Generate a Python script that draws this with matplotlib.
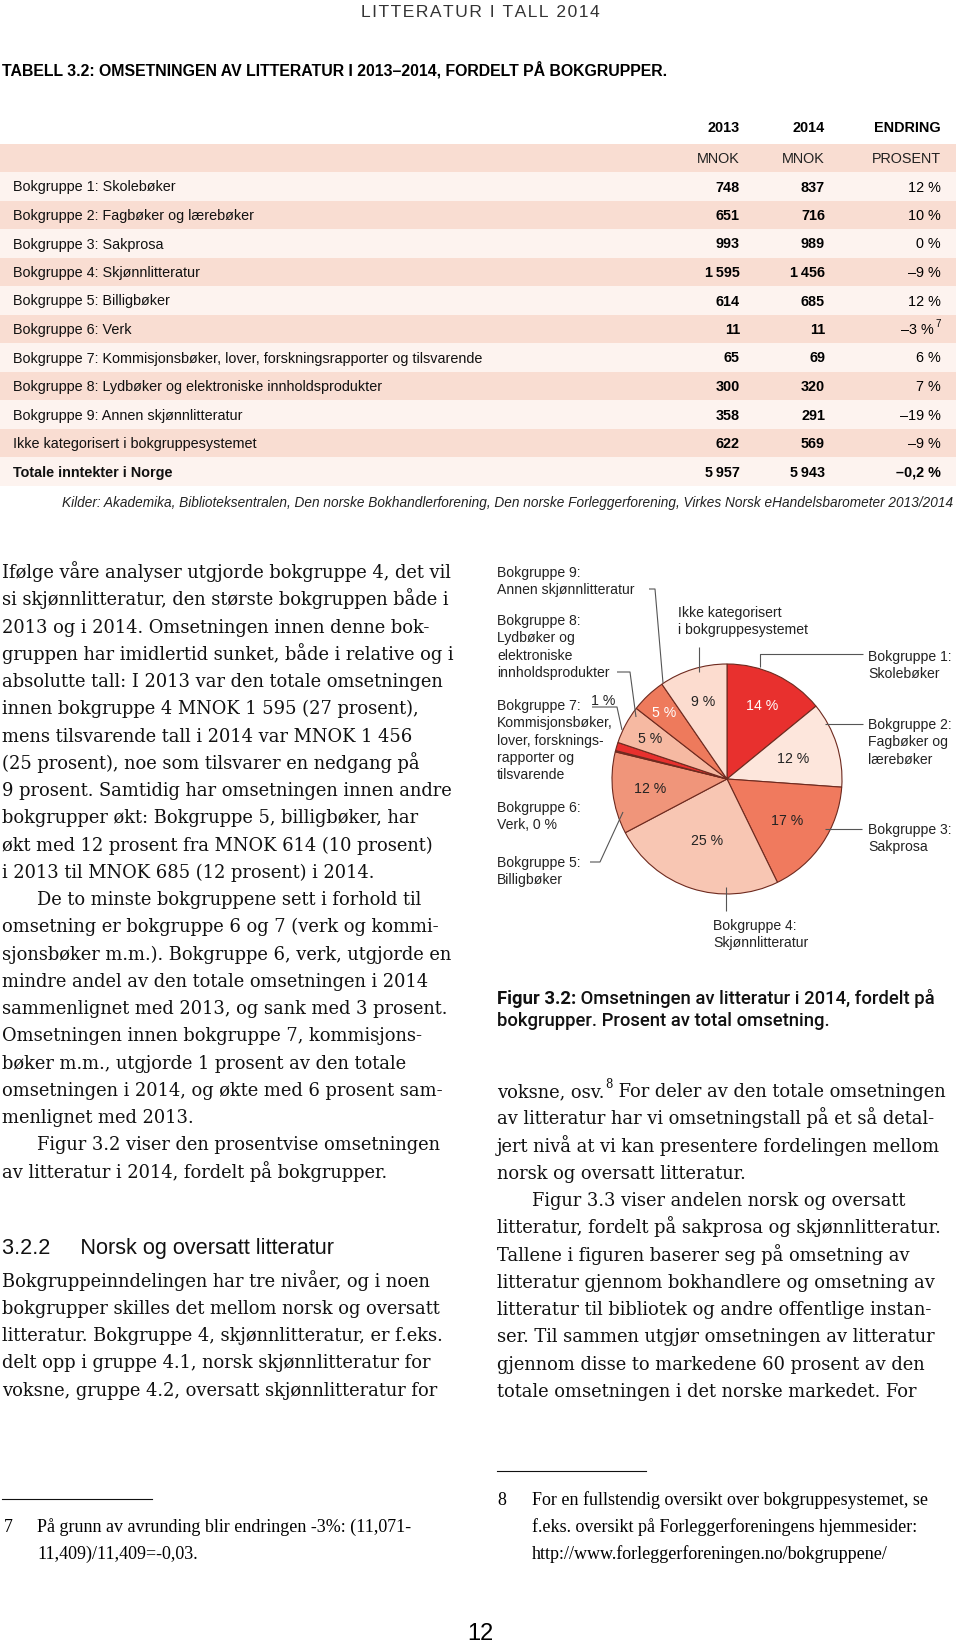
import numpy as np
import matplotlib
matplotlib.use("Agg")
import matplotlib.pyplot as plt

SANS = ["Liberation Sans", "DejaVu Sans"]
SERIF = ["DejaVu Serif"]
NOTE = ["Liberation Serif", "DejaVu Serif"]
CAPF = ["Roboto", "Liberation Sans"]

# ---- table data ----
groups = [
    "Bokgruppe 1: Skolebøker",
    "Bokgruppe 2: Fagbøker og lærebøker",
    "Bokgruppe 3: Sakprosa",
    "Bokgruppe 4: Skjønnlitteratur",
    "Bokgruppe 5: Billigbøker",
    "Bokgruppe 6: Verk",
    "Bokgruppe 7: Kommisjonsbøker, lover, forskningsrapporter og tilsvarende",
    "Bokgruppe 8: Lydbøker og elektroniske innholdsprodukter",
    "Bokgruppe 9: Annen skjønnlitteratur",
    "Ikke kategorisert i bokgruppesystemet",
]
mnok_2013 = [748, 651, 993, 1595, 614, 11, 65, 300, 358, 622]
mnok_2014 = [837, 716, 989, 1456, 685, 11, 69, 320, 291, 569]
change = ["12 %", "10 %", "0 %", "–9 %", "12 %", "–3 %", "6 %", "7 %", "–19 %", "–9 %"]
total_label = "Totale inntekter i Norge"
total_2013, total_2014, total_change = 5957, 5943, "–0,2 %"

# ---- pie data (2014 shares) ----
pie_pct = [14, 12, 17, 25, 12, 0, 1, 5, 5, 9]
pie_colors = ["#e8302e", "#fde6dc", "#f07a5e", "#f8c6b3", "#f0957a",
              "#b3261e", "#e8302e", "#f6b9a2", "#ee7a5c", "#fcdccf"]

left_text = [
    "Ifølge våre analyser utgjorde bokgruppe 4, det vil",
    "si skjønnlitteratur, den største bokgruppen både i",
    "2013 og i 2014. Omsetningen innen denne bok-",
    "gruppen har imidlertid sunket, både i relative og i",
    "absolutte tall: I 2013 var den totale omsetningen",
    "innen bokgruppe 4 MNOK 1 595 (27 prosent),",
    "mens tilsvarende tall i 2014 var MNOK 1 456",
    "(25 prosent), noe som tilsvarer en nedgang på",
    "9 prosent. Samtidig har omsetningen innen andre",
    "bokgrupper økt: Bokgruppe 5, billigbøker, har",
    "økt med 12 prosent fra MNOK 614 (10 prosent)",
    "i 2013 til MNOK 685 (12 prosent) i 2014.",
    "\tDe to minste bokgruppene sett i forhold til",
    "omsetning er bokgruppe 6 og 7 (verk og kommi-",
    "sjonsbøker m.m.). Bokgruppe 6, verk, utgjorde en",
    "mindre andel av den totale omsetningen i 2014",
    "sammenlignet med 2013, og sank med 3 prosent.",
    "Omsetningen innen bokgruppe 7, kommisjons-",
    "bøker m.m., utgjorde 1 prosent av den totale",
    "omsetningen i 2014, og økte med 6 prosent sam-",
    "menlignet med 2013.",
    "\tFigur 3.2 viser den prosentvise omsetningen",
    "av litteratur i 2014, fordelt på bokgrupper.",
]
section_text = [
    "Bokgruppeinndelingen har tre nivåer, og i noen",
    "bokgrupper skilles det mellom norsk og oversatt",
    "litteratur. Bokgruppe 4, skjønnlitteratur, er f.eks.",
    "delt opp i gruppe 4.1, norsk skjønnlitteratur for",
    "voksne, gruppe 4.2, oversatt skjønnlitteratur for",
]
right_text = [
    "",
    "av litteratur har vi omsetningstall på et så detal-",
    "jert nivå at vi kan presentere fordelingen mellom",
    "norsk og oversatt litteratur.",
    "\tFigur 3.3 viser andelen norsk og oversatt",
    "litteratur, fordelt på sakprosa og skjønnlitteratur.",
    "Tallene i figuren baserer seg på omsetning av",
    "litteratur gjennom bokhandlere og omsetning av",
    "litteratur til bibliotek og andre offentlige instan-",
    "ser. Til sammen utgjør omsetningen av litteratur",
    "gjennom disse to markedene 60 prosent av den",
    "totale omsetningen i det norske markedet. For",
]


def num(v):
    return f"{v:,}".replace(",", "\u2009")


fig = plt.figure(figsize=(9.6, 16.44), dpi=100)
ax = fig.add_axes([0, 0, 1, 1])
ax.set_xlim(0, 960)
ax.set_ylim(1644, 0)
renderer = fig.canvas.get_renderer()


def right_edge(t):
    bb = t.get_window_extent(renderer).transformed(ax.transData.inverted())
    return max(bb.x0, bb.x1)


# Pie chart (drawn first; pie() resets the limits, so restore them)
center, radius = (727, 779), 115
wedges, _ = ax.pie(mnok_2014, colors=pie_colors, startangle=-90, counterclock=True,
                   center=center, radius=radius,
                   wedgeprops=dict(edgecolor="#6e2a1f", linewidth=0.8))
ax.set_xlim(0, 960)
ax.set_ylim(1644, 0)

# Page header and table title
ax.text(480, 17, "\u200a".join("LITTERATUR I TALL 2014"), family=SANS, fontsize=12.6,
        color="#333333", ha="center", va="baseline")
ax.text(2, 76, "TABELL 3.2: OMSETNINGEN AV LITTERATUR I 2013–2014, FORDELT PÅ BOKGRUPPER.",
        family=SANS, fontsize=11.4, weight="bold", ha="left", va="baseline")

# Table
PINK, LIGHT = "#f9ddd2", "#fdf3ef"
TS = 10.4
xs = [740, 825, 941]
row_h = 28.5
for x, s in zip(xs, ["2013", "2014", "ENDRING"]):
    ax.text(x, 132, s, family=SANS, fontsize=TS, weight="bold", ha="right", va="baseline")
ax.add_patch(plt.Rectangle((0, 158 - row_h / 2), 956, row_h, color=PINK, lw=0))
for x, s in zip(xs, ["MNOK", "MNOK", "PROSENT"]):
    ax.text(x, 163, s, family=SANS, fontsize=TS, color="#222222", ha="right", va="baseline")

rows = list(zip(groups, mnok_2013, mnok_2014, change)) + \
    [(total_label, total_2013, total_2014, total_change)]
for i, (g, a, b, c) in enumerate(rows):
    yc = 186.5 + row_h * i
    ax.add_patch(plt.Rectangle((0, yc - row_h / 2), 956, row_h,
                               color=PINK if i % 2 else LIGHT, lw=0))
    last = i == len(rows) - 1
    ax.text(13, yc + 5, g, family=SANS, fontsize=TS, weight="bold" if last else "normal",
            color="#111111", ha="left", va="baseline")
    ax.text(xs[0], yc + 5, num(a), family=SANS, fontsize=TS, weight="bold", ha="right", va="baseline")
    ax.text(xs[1], yc + 5, num(b), family=SANS, fontsize=TS, weight="bold", ha="right", va="baseline")
    cx = xs[2]
    if g.startswith("Bokgruppe 6"):
        ax.text(cx, yc - 2, "7", family=SANS, fontsize=7, ha="right", va="baseline")
        cx -= 7
    ax.text(cx, yc + 5, c, family=SANS, fontsize=TS, weight="bold" if last else "normal",
            ha="right", va="baseline")

ax.text(953, 507, "Kilder: Akademika, Biblioteksentralen, Den norske Bokhandlerforening, "
        "Den norske Forleggerforening, Virkes Norsk eHandelsbarometer 2013/2014",
        family=SANS, fontsize=9.8, style="italic", color="#222222", ha="right", va="baseline")

# Body text
LH = 27.25
BS = 12.9


def paragraph(x0, y0, lines, size=BS):
    for k, line in enumerate(lines):
        if not line:
            continue
        x = x0
        if line.startswith("\t"):
            x += 35
            line = line[1:]
        ax.text(x, y0 + LH * k, line, family=SERIF, fontsize=size, color="#111111",
                ha="left", va="baseline")


paragraph(2, 578, left_text)
ax.text(2, 1254, "3.2.2     Norsk og oversatt litteratur", family=SANS, fontsize=15.6,
        color="#111111", ha="left", va="baseline")
paragraph(2, 1286.5, section_text)
paragraph(497, 1097, right_text)

# first right-column line with footnote mark
t1 = ax.text(497, 1097, "voksne, osv.", family=SERIF, fontsize=BS, color="#111111",
             ha="left", va="baseline")
t2 = ax.text(right_edge(t1) + 1, 1088, "8", family=SERIF, fontsize=8.5, color="#111111",
             ha="left", va="baseline")
ax.text(right_edge(t2), 1097, " For deler av den totale omsetningen", family=SERIF,
        fontsize=BS, color="#111111", ha="left", va="baseline")

# Pie labels
PS = 10.2
label_frac = [0.71, 0.6, 0.63, 0.56, 0.67, None, None, 0.76, 0.8, 0.71]
label_col = ["white", "#222222", "#222222", "#222222", "#222222", None, None,
             "#222222", "white", "#222222"]
for w, p, f, col in zip(wedges, pie_pct, label_frac, label_col):
    if f is None:
        continue
    mid = np.deg2rad((w.theta1 + w.theta2) / 2)
    px = center[0] + f * radius * np.cos(mid)
    py = center[1] + f * radius * np.sin(mid)
    ax.text(px, py + 5, f"{p} %", family=SANS, fontsize=PS, color=col,
            ha="center", va="baseline")
ax.text(603, 704.5, f"{pie_pct[6]} %", family=SANS, fontsize=PS, color="#222222",
        ha="center", va="baseline")

leaders = [
    [(863, 654), (760, 654), (760, 667)],
    [(863, 724), (825, 724)],
    [(862, 829), (825, 829)],
    [(726, 911), (726, 887)],
    [(590, 862), (600, 862), (623, 812)],
    [(592, 707), (617, 707), (622, 730)],
    [(617, 672), (630, 672), (636, 717)],
    [(649, 589), (655, 589), (663, 683)],
    [(699, 647), (699, 672)],
]
for pts in leaders:
    lx, ly = zip(*pts)
    ax.plot(lx, ly, color="#555555", lw=0.8, solid_capstyle="butt")

outer_labels = [
    (497, 572, ["Bokgruppe 9:", "Annen skjønnlitteratur"]),
    (497, 620, ["Bokgruppe 8:", "Lydbøker og", "elektroniske", "innholdsprodukter"]),
    (497, 705, ["Bokgruppe 7:", "Kommisjonsbøker,", "lover, forsknings-", "rapporter og", "tilsvarende"]),
    (497, 807, ["Bokgruppe 6:", f"Verk, {pie_pct[5]} %"]),
    (497, 862, ["Bokgruppe 5:", "Billigbøker"]),
    (678, 612, ["Ikke kategorisert", "i bokgruppesystemet"]),
    (868, 656, ["Bokgruppe 1:", "Skolebøker"]),
    (868, 724, ["Bokgruppe 2:", "Fagbøker og", "lærebøker"]),
    (868, 829, ["Bokgruppe 3:", "Sakprosa"]),
    (713, 925, ["Bokgruppe 4:", "Skjønnlitteratur"]),
]
for x, y, lines in outer_labels:
    for k, s in enumerate(lines):
        ax.text(x, y + 17.3 * k + 5, s, family=SANS, fontsize=10.1, color="#222222",
                ha="left", va="baseline")

# Figure caption
CS = 13.3
cap = ax.text(497, 1004, "Figur 3.2:", family=CAPF, fontsize=CS, weight="bold",
              color="#111111", ha="left", va="baseline")
ax.text(right_edge(cap), 1004, " Omsetningen av litteratur i 2014, fordelt på",
        family=CAPF, fontsize=CS, weight="medium", color="#111111", ha="left", va="baseline")
ax.text(497, 1026, "bokgrupper. Prosent av total omsetning.",
        family=CAPF, fontsize=CS, weight="medium", color="#111111", ha="left", va="baseline")

# Footnotes
FS = 13.0
ax.plot([2, 152], [1499, 1499], color="#111111", lw=0.8)
ax.plot([497, 646], [1471, 1471], color="#111111", lw=0.8)
ax.text(4, 1532, "7", family=NOTE, fontsize=FS, ha="left", va="baseline")
ax.text(37, 1532, "På grunn av avrunding blir endringen -3%: (11,071-", family=NOTE,
        fontsize=FS, ha="left", va="baseline")
ax.text(37, 1559, "11,409)/11,409=-0,03.", family=NOTE, fontsize=FS, ha="left", va="baseline")
ax.text(497, 1505, "8", family=NOTE, fontsize=FS, ha="left", va="baseline")
for k, s in enumerate(["For en fullstendig oversikt over bokgruppesystemet, se",
                       "f.eks. oversikt på Forleggerforeningens hjemmesider:",
                       "http://www.forleggerforeningen.no/bokgruppene/"]):
    ax.text(532, 1505 + 27 * k, s, family=NOTE, fontsize=FS, ha="left", va="baseline")

ax.text(480, 1640, "12", family=SANS, fontsize=17, ha="center", va="baseline")

ax.set_xlim(0, 960)
ax.set_ylim(1644, 0)
ax.axis("off")
fig.savefig("out.png", dpi=100)
